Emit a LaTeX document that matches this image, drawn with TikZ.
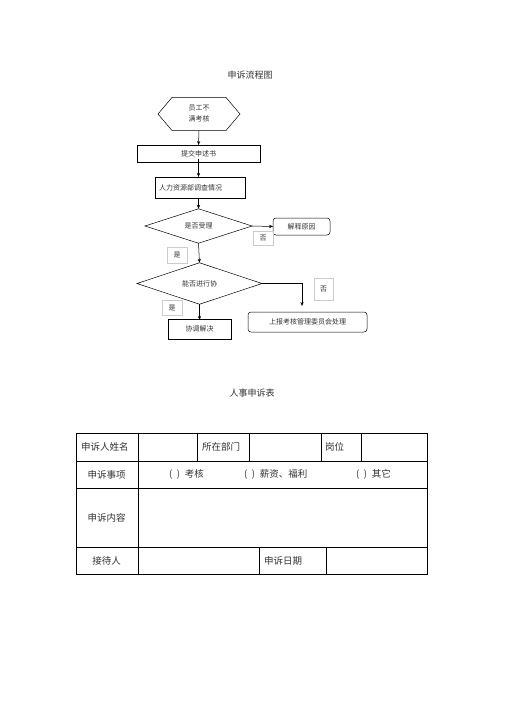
\documentclass[tikz,border=0pt]{standalone}
\usepackage{fontspec}
\setmainfont{Noto Sans CJK SC}
\usetikzlibrary{shapes.geometric,arrows.meta}
\begin{document}
\begin{tikzpicture}[x=1pt,y=-1pt,
  every node/.style={inner sep=0pt,outer sep=0pt,font=\fontsize{7}{9}\selectfont,text=black!80},
  flowbox/.style={draw,line width=0.5pt,rectangle,anchor=center},
  roundbox/.style={draw,line width=0.5pt,rectangle,rounded corners=3pt},
  decision/.style={draw,line width=0.5pt,diamond},
  lbl/.style={draw=black!20,line width=0.4pt,rectangle},
  arr/.style={line width=0.5pt,-{Stealth[length=4pt,width=3.2pt]}},
  plain/.style={line width=0.5pt},
  tbltext/.style={font=\fontsize{9.5}{11}\selectfont},
  ttl/.style={font=\fontsize{9}{11}\selectfont},
  outer/.style={line width=1pt},
  inner/.style={line width=0.5pt}]
\useasboundingbox (0,0) rectangle (505,714);
\fill[white] (0,0) rectangle (505,714);

% ---------- flowchart ----------
\node[ttl] (t1) at (250,75) {申诉流程图};

\node[minimum width=82pt,minimum height=33pt,align=center] (hex) at (199,114) {员工不\\[2pt]满考核};
\draw[plain] (hex.west) -- ([xshift=14pt]hex.north west) -- ([xshift=-14pt]hex.north east)
  -- (hex.east) -- ([xshift=-14pt]hex.south east) -- ([xshift=14pt]hex.south west) -- cycle;

\node[flowbox,minimum width=123pt,minimum height=17pt] (b1) at (198.5,153.5) {提交申述书};
\node[flowbox,minimum width=90pt,minimum height=21pt,text width=82pt,align=left] (b2) at (200,187.5) {人力资源部调查情况};
\node[decision,minimum width=107pt,minimum height=32pt] (d1) at (198.5,226) {是否受理};
\node[roundbox,minimum width=57pt,minimum height=17pt] (b3) at (301.5,226.5) {解释原因};
\node[decision,minimum width=125pt,minimum height=37pt] (d2) at (199.5,283.5) {能否进行协};
\node[roundbox,minimum width=119pt,minimum height=20pt] (b4) at (307.5,322) {上报考核管理委员会处理};
\node[flowbox,minimum width=63pt,minimum height=20pt] (b5) at (199.5,329) {协调解决};

\node[lbl,minimum width=20pt,minimum height=14pt] (n1) at (263,238) {否};
\node[lbl,minimum width=20pt,minimum height=16pt] (y1) at (177,255) {是};
\node[lbl,minimum width=19pt,minimum height=22pt] (n2) at (323.5,289) {否};
\node[lbl,minimum width=20pt,minimum height=15pt] (y2) at (172,307.5) {是};

\draw[arr] (hex.south) -- (b1.north);
\draw[arr] ([yshift=3pt]b1.south) -- (b1.south |- b2.north);
\draw[arr] (b2.south -| d1.north) -- (d1.north);
\draw[arr] (d1.east) -- (b3.west);
\draw[arr] (d1.south) -- (d2.north);
\coordinate (c4) at (302,306);
\draw[arr] (d2.east) -| (c4);
\draw[arr] (d2.south) -- ([yshift=-1pt]b5.north -| d2.south);

% ---------- table ----------
\node[ttl] (t2) at (252,393) {人事申诉表};

\draw[outer] (76,433) rectangle (427,574);
\draw[inner] (76,461) -- (427,461);
\draw[inner] (76,488) -- (427,488);
\draw[inner] (76,547) -- (427,547);
\draw[inner] (138,433) -- (138,574);
\draw[inner] (197,433) -- (197,461);
\draw[inner] (249,433) -- (249,461);
\draw[inner] (321,433) -- (321,461);
\draw[inner] (361,433) -- (361,461);
\draw[inner] (259,547) -- (259,574);
\draw[inner] (326,547) -- (326,574);

\node[tbltext,anchor=west] (r1a) at (81,447) {申诉人姓名};
\node[tbltext,anchor=west] (r1b) at (202,447) {所在部门};
\node[tbltext,anchor=west] (r1c) at (325,447) {岗位};
\node[tbltext] (r2a) at (106.5,474.5) {申诉事项};
\node[tbltext,anchor=west] (r2b) at (169,474.5) {(\enspace)\enspace 考核};
\node[tbltext,anchor=west] (r2c) at (244,474.5) {(\enspace)\enspace 薪资、福利};
\node[tbltext,anchor=west] (r2d) at (356,474.5) {(\enspace)\enspace 其它};
\node[tbltext] (r3a) at (106.5,517.5) {申诉内容};
\node[tbltext] (r4a) at (106.5,560.5) {接待人};
\node[tbltext,anchor=west] (r4b) at (264,560.5) {申诉日期};
\end{tikzpicture}
\end{document}
